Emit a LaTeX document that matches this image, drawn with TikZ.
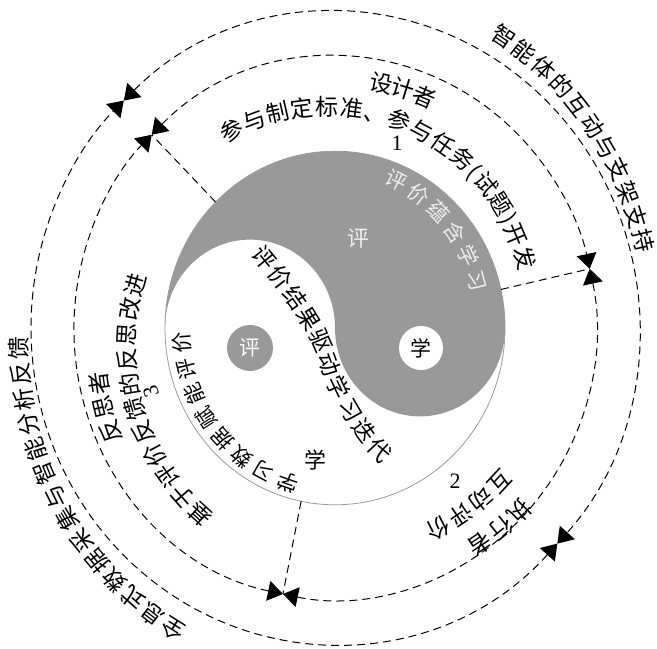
\documentclass[tikz,border=0pt]{standalone}
\usepackage{fontspec}
\setmainfont{Noto Sans CJK SC}
\newfontfamily\numfont{Liberation Serif}
\usepackage{tikz}
\usetikzlibrary{arrows.meta, decorations.text}

\definecolor{yygray}{RGB}{153,153,153}
\definecolor{paletext}{RGB}{238,238,238}
\newcommand\ringfont{\fontsize{23}{23}\selectfont}
\newcommand\smallring{\fontsize{21}{21}\selectfont}

% text on a ring: [options] start angle, end angle, start radius, end radius, text
\newcommand\arctext[6][text align=fit to path, raise=-8.7bp]{%
  \path[decorate, decoration={text along path, #1, text={#6}}]
    plot[domain=0:1, samples=60, variable=\t]
      ({(#2)+((#3)-(#2))*\t}:{(#4)+((#5)-(#4))*\t});}

\begin{document}
\begin{tikzpicture}[x=1bp, y=1.04bp,
    ring/.style={dash pattern=on 8bp off 5bp, line width=1pt},
    tipped/.style={ring, {Triangle[length=15bp,width=20bp]}-{Triangle[length=15bp,width=20bp]}},
    dot/.style={circle, minimum size=46bp, inner sep=0pt, font=\fontsize{21}{21}\selectfont},
    num/.style={font=\numfont\fontsize{22}{22}\selectfont, inner sep=0pt},
    bigchar/.style={font=\fontsize{22}{22}\selectfont, inner sep=0pt}]

  \useasboundingbox (-335,-307.7) rectangle (322,315.4);

  % taiji
  \fill[yygray] (-170,0) arc[start angle=180, end angle=0, radius=170]
    arc[start angle=0, end angle=-180, radius=85]
    arc[start angle=0, end angle=180, radius=85] -- cycle;
  \draw[yygray, line width=0.8pt] (0,0) circle[radius=170];

  \node[dot, fill=yygray, text=white] (pdot) at (-85,-19.2) {评};
  \node[dot, fill=white, minimum size=44bp] (xdot) at (86,-19.2) {学};
  \node[bigchar, text=paletext] (ping) at (23,86.5) {评};
  \node[bigchar] (xue) at (-20,-127) {学};

  % points on the rings
  \coordinate (yy1) at (134.6:170);
  \coordinate (yy2) at (12.6:170);
  \coordinate (yy3) at (-101.5:170);
  \coordinate (in1) at (134.6:261);
  \coordinate (in2) at (12.6:261);
  \coordinate (in3) at (-101.5:261);
  \coordinate (out1) at (134:304);
  \coordinate (out2) at (-43:304);

  \draw[ring] (yy1) -- (in1);
  \draw[ring] (yy2) -- (in2);
  \draw[ring] (yy3) -- (in3);

  \draw[tipped] (in1) arc[start angle=134.6, end angle=12.6, radius=261];
  \draw[tipped] (in2) arc[start angle=12.6, end angle=-101.5, radius=261];
  \draw[tipped] (in3) arc[start angle=-101.5, end angle=-225.4, radius=261];
  \draw[tipped] (out1) arc[start angle=134, end angle=-43, radius=304];
  \draw[tipped] (out2) arc[start angle=-43, end angle=-226, radius=304];

  % texts
  \arctext[text align=fit to path, text color=paletext, raise=-8bp]{70.4}{14.1}{155}{149}{|\smallring|评价蕴含学习}
  \arctext[text align=fit to path, raise=-8bp]{-103.6}{-178.5}{156}{154}{|\smallring|学习数据赋能评价}
  \path[decorate, decoration={text along path, text align=fit to path, raise=-8.7bp,
        text={|\ringfont|评价结果驱动学习迭代}}]
    (-78,76) .. controls (-45,38) and (-20,5) .. (-11,-20)
    .. controls (-3,-45) and (15,-90) .. (53,-125);

  \arctext[text align=center, raise=-8.7bp]{85}{62}{240}{240}{|\ringfont|设计者}
  \arctext{121.5}{16.4}{217}{201}{|\ringfont|参与制定标准、参与任务(试题)开发}
  \arctext{-41.1}{-57.6}{256}{253}{|\ringfont|执行者}
  \arctext{-38.9}{-64.8}{222}{218}{|\ringfont|互动评价}
  \arctext{206.4}{190}{246}{241}{|\ringfont|反思者}
  \arctext{235.9}{165.1}{225}{203}{|\ringfont|基于评价反馈的反思改进}
  \arctext{60.9}{13.2}{327}{319}{|\ringfont|智能体的互动与支架支持}
  \arctext{242.8}{181.5}{332}{316}{|\ringfont|全息式数据采集与智能分析反馈}

  \node[num] (n1) at (62,178) {1};
  \node[num] (n2) at (120,-147) {2};
  \node[num, rotate=108] (n3) at (-184,-61.5) {3};
\end{tikzpicture}
\end{document}
